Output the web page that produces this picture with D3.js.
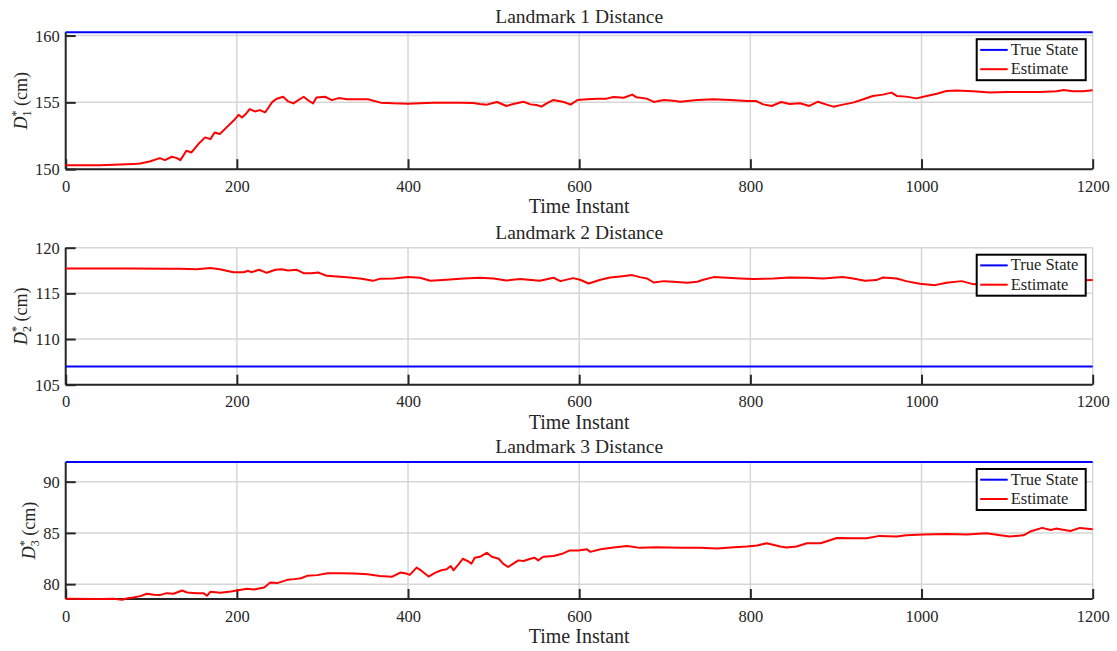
<!DOCTYPE html>
<html><head><meta charset="utf-8">
<script src="https://cdn.jsdelivr.net/npm/d3@7"></script>
<style>
body{margin:0;background:#fff;}
svg{display:block;}
text{font-family:"Liberation Serif","Times New Roman",serif;fill:#262626;}
</style>
</head><body>
<svg id="chart" width="1117" height="651"></svg>
<script>
// ---------------- data ----------------
const titles = ["Landmark 1 Distance", "Landmark 2 Distance", "Landmark 3 Distance"];
const subscripts = ["1", "2", "3"];
const xLabel = "Time Instant";
const legendLabels = ["True State", "Estimate"];
const xTicks = [0, 200, 400, 600, 800, 1000, 1200];
const xDomain = [0, 1200];

const yTicks1 = [150, 155, 160];
const yTicks2 = [105, 110, 115, 120];
const yTicks3 = [80, 85, 90];
const yDomain1 = [150, 160.25];
const yDomain2 = [105, 120];
const yDomain3 = [78.55, 91.92];

const trueState1 = 160.25;
const trueState2 = 107.0;
const trueState3 = 91.92;

const time1 = [0,40,79,87,98,110,116,124,130,134,141,147,155,163,169,174,180,188,196,202,206,211,215,221,227,233,237,241,246,254,260,266,278,284,289,293,303,311,319,329,353,368,383,400,414,430,461,476,484,492,504,515,523,535,543,550,556,562,570,582,590,598,609,621,632,640,652,662,667,679,687,699,710,718,738,757,777,796,807,815,825,836,846,858,869,879,889,897,908,920,932,943,955,965,971,982,994,1006,1018,1029,1041,1060,1080,1099,1119,1138,1158,1166,1177,1189,1200];
const estimate1 = [150.30,150.30,150.38,150.43,150.58,150.83,150.68,150.93,150.83,150.68,151.38,151.25,151.88,152.38,152.25,152.75,152.63,153.13,153.62,154.07,153.87,154.17,154.50,154.32,154.42,154.25,154.62,155.00,155.25,155.42,155.07,154.92,155.42,155.12,154.92,155.37,155.42,155.17,155.32,155.23,155.23,154.98,154.93,154.90,154.93,154.98,154.98,154.95,154.88,154.83,155.03,154.73,154.88,155.05,154.85,154.80,154.68,154.93,155.18,155.03,154.83,155.18,155.23,155.28,155.28,155.40,155.35,155.58,155.38,155.28,155.03,155.18,155.13,155.05,155.18,155.23,155.18,155.10,155.10,154.85,154.73,155.03,154.88,154.93,154.73,155.05,154.83,154.68,154.83,154.98,155.23,155.48,155.58,155.73,155.48,155.43,155.30,155.48,155.65,155.85,155.88,155.83,155.73,155.78,155.78,155.78,155.83,155.93,155.83,155.83,155.90];

const time2 = [0,79,118,134,153,169,180,196,208,213,217,226,235,245,252,260,270,278,287,295,305,317,332,346,359,367,383,400,414,426,445,465,484,500,515,531,554,570,578,593,601,611,625,636,648,662,671,679,687,699,710,726,738,745,757,773,788,804,827,846,866,885,908,920,934,947,955,971,982,998,1016,1029,1047,1060,1080,1110,1150,1200];
const estimate2 = [117.73,117.73,117.69,117.69,117.65,117.77,117.65,117.32,117.32,117.47,117.32,117.58,117.25,117.58,117.65,117.51,117.58,117.21,117.21,117.29,116.92,116.85,116.74,116.59,116.37,116.59,116.63,116.78,116.71,116.38,116.49,116.63,116.71,116.63,116.41,116.56,116.38,116.71,116.34,116.67,116.49,116.08,116.49,116.74,116.85,117.00,116.78,116.63,116.19,116.34,116.27,116.16,116.27,116.49,116.78,116.71,116.63,116.56,116.63,116.74,116.71,116.63,116.78,116.63,116.38,116.45,116.74,116.63,116.34,116.05,115.90,116.16,116.34,116.01,116.08,116.27,116.34,116.45];

const time3 = [0,40,56,66,71,79,87,95,103,110,118,126,136,142,153,161,165,169,181,193,200,212,220,232,239,247,259,267,275,282,294,306,321,337,353,367,381,391,398,402,410,416,424,432,439,445,450,453,459,464,471,474,478,484,492,498,506,511,517,523,529,535,543,548,552,558,570,580,589,599,609,613,625,640,656,671,691,718,741,761,781,796,808,819,835,842,854,866,882,901,920,936,951,971,982,1002,1029,1053,1076,1092,1103,1119,1127,1141,1151,1157,1174,1185,1200];
const estimate3 = [78.57,78.54,78.57,78.47,78.60,78.70,78.83,79.06,78.96,78.93,79.12,79.06,79.38,79.19,79.12,79.12,78.86,79.25,79.16,79.29,79.38,79.55,79.48,79.68,80.16,80.10,80.42,80.49,80.58,80.81,80.88,81.07,81.07,81.04,80.97,80.80,80.71,81.13,81.03,80.90,81.61,81.29,80.74,81.13,81.35,81.45,81.77,81.35,81.93,82.48,82.19,82.00,82.58,82.67,83.06,82.67,82.48,82.00,81.67,82.00,82.32,82.26,82.48,82.58,82.32,82.67,82.74,82.96,83.29,83.29,83.41,83.15,83.41,83.57,83.73,83.54,83.60,83.54,83.54,83.47,83.60,83.67,83.77,83.99,83.67,83.57,83.67,83.99,83.99,84.51,84.48,84.48,84.71,84.64,84.77,84.84,84.90,84.84,84.97,84.77,84.64,84.77,85.13,85.49,85.29,85.42,85.19,85.49,85.36];

// ---------------- layout ----------------
const svg = d3.select("#chart");
const left = 65.7, right = 1092.7;
const panelTops = [32.2, 247.7, 462.0];
const panelH = 137;
const axisColor = "#262626";
const gridColor = "#d6d6d6";
const serif = '"Liberation Serif","Times New Roman",serif';

const panels = [
  {title: titles[0], sub: subscripts[0], yDomain: yDomain1, yTicks: yTicks1, truth: trueState1, t: time1, v: estimate1},
  {title: titles[1], sub: subscripts[1], yDomain: yDomain2, yTicks: yTicks2, truth: trueState2, t: time2, v: estimate2},
  {title: titles[2], sub: subscripts[2], yDomain: yDomain3, yTicks: yTicks3, truth: trueState3, t: time3, v: estimate3}
];

const x = d3.scaleLinear().domain(xDomain).range([left, right]);

panels.forEach((p, i) => {
  const top = panelTops[i], bottom = top + panelH;
  const y = d3.scaleLinear().domain(p.yDomain).range([bottom, top]);
  const g = svg.append("g");

  // grid
  g.append("g").selectAll("line").data(xTicks.filter(d => d > 0)).join("line")
    .attr("x1", d => x(d)).attr("x2", d => x(d)).attr("y1", top).attr("y2", bottom)
    .attr("stroke", gridColor).attr("stroke-width", 1.5);
  g.append("g").selectAll("line").data(p.yTicks).join("line")
    .attr("x1", left).attr("x2", right).attr("y1", d => y(d)).attr("y2", d => y(d))
    .attr("stroke", gridColor).attr("stroke-width", 1.5);

  // x axis (ticks inward)
  const xAxis = d3.axisBottom(x).tickValues(xTicks).tickSize(-10).tickPadding(6).tickFormat(d3.format("d"));
  const gx = g.append("g").attr("transform", `translate(0,${bottom})`).call(xAxis);
  gx.attr("font-family", null);
  gx.select(".domain").attr("stroke", axisColor).attr("stroke-width", 2).attr("d", `M${left},0H${right}`);
  gx.selectAll(".tick line").attr("stroke", axisColor).attr("stroke-width", 2);
  gx.selectAll(".tick text").style("font-family", serif).style("font-size", "16.5px")
    .attr("fill", axisColor).attr("y", 22.5).attr("dy", 0);

  // y axis
  const yAxis = d3.axisLeft(y).tickValues(p.yTicks).tickSize(-10).tickPadding(6).tickFormat(d3.format("d"));
  const gy = g.append("g").attr("transform", `translate(${left},0)`).call(yAxis);
  gy.attr("font-family", null);
  gy.select(".domain").attr("stroke", axisColor).attr("stroke-width", 2).attr("d", `M0,${top}V${bottom}`);
  gy.selectAll(".tick line").attr("stroke", axisColor).attr("stroke-width", 2);
  gy.selectAll(".tick text").style("font-family", serif).style("font-size", "16.5px")
    .attr("fill", axisColor).attr("x", -6).attr("dy", "0.34em");

  // data lines
  g.append("line")
    .attr("x1", x(xDomain[0])).attr("x2", x(xDomain[1]))
    .attr("y1", y(p.truth)).attr("y2", y(p.truth))
    .attr("stroke", "#0000ff").attr("stroke-width", 2);
  const line = d3.line().x(d => x(d[0])).y(d => y(d[1]));
  g.append("path").datum(p.t.map((t, k) => [t, p.v[k]]))
    .attr("d", line).attr("fill", "none").attr("stroke", "#ff0000")
    .attr("stroke-width", 2).attr("stroke-linejoin", "round");

  // title
  g.append("text").attr("x", (left + right) / 2).attr("y", top - 9)
    .attr("text-anchor", "middle").style("font-size", "19.5px").text(p.title);
  // x label
  g.append("text").attr("x", (left + right) / 2).attr("y", bottom + 44)
    .attr("text-anchor", "middle").style("font-size", "20px").text(xLabel);

  // y label
  let maxW = 0;
  gy.selectAll(".tick text").each(function(){ maxW = Math.max(maxW, this.getBBox().width); });
  const lx = left - 6 - maxW - 8;
  const yl = g.append("text")
    .attr("transform", `translate(${lx},${(top + bottom) / 2}) rotate(-90)`)
    .attr("text-anchor", "middle").style("font-size", "18px");
  yl.append("tspan").attr("font-style", "italic").text("D");
  yl.append("tspan").style("font-size", "12px").attr("dy", -7).text("*");
  yl.append("tspan").style("font-size", "12px").attr("dx", -6).attr("dy", 11).text(p.sub);
  yl.append("tspan").attr("dy", -4).text("\u00a0(cm)");

  // legend
  const lw = 109, lh = 41;
  const lgX = right - 7 - lw, lgY = top + 7;
  const lg = g.append("g").attr("transform", `translate(${lgX},${lgY})`);
  lg.append("rect").attr("width", lw).attr("height", lh).attr("fill", "#fff")
    .attr("stroke", "#000").attr("stroke-width", 2);
  const colors = ["#0000ff", "#ff0000"];
  legendLabels.forEach((lab, k) => {
    const ry = 10.7 + k * 19.3;
    lg.append("line").attr("x1", 3.5).attr("x2", 31).attr("y1", ry).attr("y2", ry)
      .attr("stroke", colors[k]).attr("stroke-width", 2);
    lg.append("text").attr("x", 34).attr("y", ry + 5).style("font-size", "16.5px").attr("fill", "#000").text(lab);
  });
});
</script>
</body></html>
